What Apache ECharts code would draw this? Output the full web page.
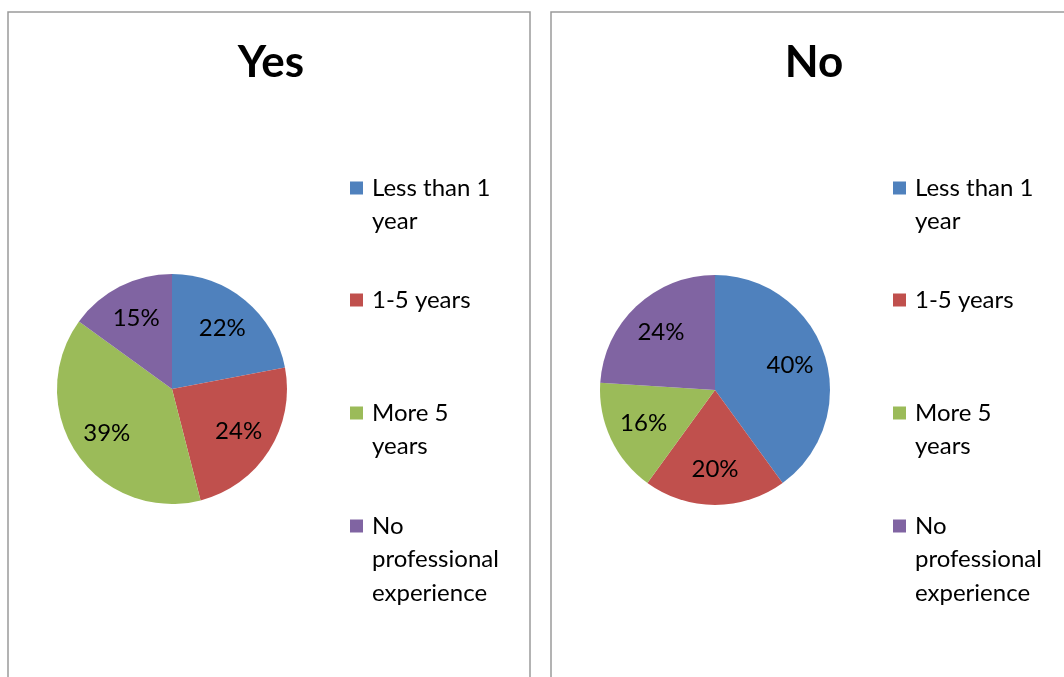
<!DOCTYPE html>
<html>
<head>
<meta charset="utf-8">
<script src="https://cdn.jsdelivr.net/npm/echarts@6/dist/echarts.min.js"></script>
<style>
  html, body { margin: 0; padding: 0; background: #fff; }
  #chart { width: 1064px; height: 677px; }
</style>
</head>
<body>
<div id="chart"></div>
<script>
// Professional experience split, for respondents answering Yes and No
const categories = ['Less than 1 year', '1-5 years', 'More 5 years', 'No professional experience'];
const legendLabels = ['Less than 1\nyear', '1-5 years', 'More 5\nyears', 'No\nprofessional\nexperience'];
const yesValues = [22, 24, 39, 15];
const noValues = [40, 20, 16, 24];
const panelTitles = ['Yes', 'No'];
const colors = ['#4F81BD', '#C0504D', '#9BBB59', '#8064A2'];

const FONT = 'Lato, "Open Sans", sans-serif';
const R = 115;

const panels = [
  { title: panelTitles[0], values: yesValues, left: 8, center: [172, 389] },
  { title: panelTitles[1], values: noValues, left: 551, center: [715, 390] }
];

const series = [];
const titles = [];
const graphic = [];

panels.forEach((p, i) => {
  const data = categories.map((c, k) => ({ name: c, value: p.values[k] }));
  // filled pie
  series.push({
    type: 'pie',
    center: p.center,
    radius: [0, R],
    startAngle: 90,
    clockwise: true,
    silent: true,
    label: { show: false },
    labelLine: { show: false },
    itemStyle: { borderWidth: 0, color: (d) => colors[d.dataIndex] },
    data: data
  });
  // percentage labels, placed a bit further out than the slice midpoint
  series.push({
    type: 'pie',
    center: p.center,
    radius: [R * 0.32, R],
    startAngle: 90,
    clockwise: true,
    silent: true,
    itemStyle: { color: 'rgba(0,0,0,0)', borderWidth: 0 },
    label: {
      show: true,
      position: 'inside',
      formatter: (d) => d.value + '%',
      color: '#000',
      fontFamily: FONT,
      fontSize: 24
    },
    labelLine: { show: false },
    data: data
  });
  titles.push({
    text: p.title,
    left: p.left + 258,
    top: 36,
    textAlign: 'center',
    textStyle: { fontFamily: FONT, fontWeight: 'bold', fontSize: 44, color: '#000' }
  });
  // panel frame
  graphic.push({
    type: 'rect',
    shape: { x: p.left, y: 12, width: i === 0 ? 522 : 600, height: 720 },
    style: { fill: 'none', stroke: '#9a9a9a', lineWidth: 1.5 },
    silent: true
  });
  // legend entries
  const lx = p.left + 342;
  const tops = [188, 300, 413, 526];
  legendLabels.forEach((lab, k) => {
    graphic.push({
      type: 'rect',
      shape: { x: lx, y: tops[k] - 6.5, width: 13, height: 13 },
      style: { fill: colors[k] },
      silent: true
    });
    graphic.push({
      type: 'text',
      x: lx + 22,
      y: tops[k] - 16.5,
      style: {
        text: lab,
        fontFamily: FONT,
        fontSize: 24,
        lineHeight: 33.5,
        fill: '#000',
        verticalAlign: 'top'
      },
      silent: true
    });
  });
});

const chart = echarts.init(document.getElementById('chart'), null, { renderer: 'canvas' });
chart.setOption({
  backgroundColor: '#fff',
  animation: false,
  title: titles,
  series: series,
  graphic: graphic
});
</script>
</body>
</html>
